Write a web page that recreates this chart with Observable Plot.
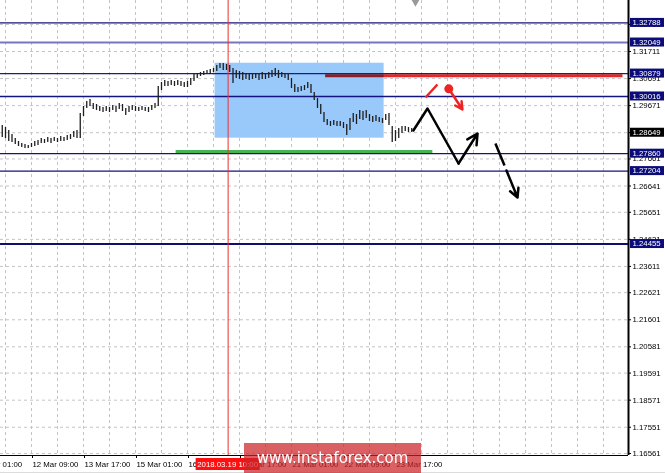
<!DOCTYPE html>
<html><head><meta charset="utf-8">
<script src="https://cdn.jsdelivr.net/npm/d3@7"></script>
<script src="https://cdn.jsdelivr.net/npm/@observablehq/plot@0.6"></script>
<style>
html,body{margin:0;padding:0;background:#fff;}
#chart{width:665px;height:473px;overflow:hidden;}
</style></head><body><div id="chart"></div>
<script>
// ---- data (H1 bar index t: 0 = 12 Mar 09:00) ----
const firstBarT = -18, barStep = 2;
const barHigh = [1.28922,1.28847,1.28734,1.28583,1.28432,1.28319,1.28244,1.28206,1.28169,1.28244,
1.28319,1.28357,1.28432,1.28395,1.28470,1.28432,1.28470,1.28432,1.28508,1.28470,
1.28545,1.28583,1.28696,1.28734,1.29375,1.29638,1.29827,1.29902,1.29751,1.29714,
1.29638,1.29601,1.29638,1.29601,1.29676,1.29638,1.29751,1.29714,1.29563,1.29638,
1.29676,1.29638,1.29601,1.29638,1.29601,1.29601,1.29676,1.29751,1.30392,1.30543,
1.30618,1.30580,1.30618,1.30580,1.30618,1.30580,1.30543,1.30580,1.30694,1.30844,
1.30882,1.30920,1.30957,1.30995,1.31033,1.31070,1.31183,1.31259,1.31259,1.31221,
1.31183,1.31070,1.30995,1.30957,1.30920,1.30882,1.30882,1.30844,1.30882,1.30844,
1.30920,1.30882,1.30920,1.30995,1.31070,1.30995,1.30920,1.30882,1.30844,1.30694,
1.30467,1.30354,1.30392,1.30430,1.30543,1.30467,1.30166,1.29940,1.29714,1.29412,
1.29148,1.29073,1.29111,1.29073,1.29073,1.29035,1.28960,1.29186,1.29375,1.29337,
1.29488,1.29450,1.29488,1.29337,1.29261,1.29299,1.29224,1.29186,1.29337,1.29375,
1.28885,1.28734,1.28809,1.28885,1.28885,1.28847,1.28809];
const barLow = [1.28470,1.28432,1.28319,1.28282,1.28206,1.28131,1.28093,1.28056,1.28056,1.28093,
1.28131,1.28169,1.28244,1.28244,1.28282,1.28244,1.28319,1.28282,1.28319,1.28319,
1.28357,1.28395,1.28470,1.28432,1.28432,1.29261,1.29563,1.29638,1.29525,1.29488,
1.29450,1.29412,1.29450,1.29412,1.29488,1.29412,1.29525,1.29450,1.29299,1.29412,
1.29488,1.29450,1.29450,1.29488,1.29450,1.29412,1.29488,1.29563,1.29638,1.30241,
1.30392,1.30392,1.30430,1.30392,1.30430,1.30392,1.30354,1.30354,1.30430,1.30580,
1.30694,1.30769,1.30807,1.30844,1.30844,1.30920,1.30957,1.31070,1.30995,1.30995,
1.30920,1.30505,1.30694,1.30656,1.30618,1.30656,1.30618,1.30656,1.30694,1.30618,
1.30656,1.30656,1.30694,1.30731,1.30769,1.30694,1.30731,1.30694,1.30618,1.30317,
1.30166,1.30166,1.30204,1.30241,1.30317,1.30128,1.29864,1.29563,1.29337,1.29035,
1.28922,1.28885,1.28922,1.28885,1.28885,1.28809,1.28545,1.28734,1.29035,1.28960,
1.29148,1.29111,1.29186,1.29073,1.29035,1.29073,1.29035,1.28998,1.29111,1.28922,
1.28282,1.28319,1.28432,1.28621,1.28696,1.28658,1.28658];

const timeTickT = [-32, 0, 32, 64, 96, 128, 160, 192, 224];
const timeTickLabels = ["9 Mar 01:00","12 Mar 09:00","13 Mar 17:00","15 Mar 01:00","16 Mar 09:00","19 Mar 17:00","21 Mar 01:00","22 Mar 09:00","23 Mar 17:00"];
const priceTickLabels = ["1.32731","1.31711","1.30691","1.29671","1.28651","1.27661","1.26641","1.25651","1.24631","1.23611","1.22621","1.21601","1.20581","1.19591","1.18571","1.17551","1.16561"];

const levelPrices = [1.32788, 1.32049, 1.30879, 1.30016, 1.27860, 1.27204, 1.24455];
const levelLabels = ["1.32788","1.32049","1.30879","1.30016","1.27860","1.27204","1.24455"];
const levelColors = ["#14147e","#7676bd","#1c1c86","#14147e","#14147e","#14147e","#0e0e6c"];
const levelWidths = [1.3, 2, 1.3, 1.3, 1.3, 1.3, 2];
const currentPrice = 1.28649, currentLabel = "1.28649";

const zoneT = [113, 217], zoneP = [1.31270, 1.28444];
const supportT = [89, 247], supportP = 1.27945;
const resistT = [181, 364], resistP = 1.30800;
const cursorT = 121, cursorLabel = "2018.03.19 10:00";

const zigT = [235, 243.7, 262.8], zigP = [1.28734, 1.29563, 1.27490];
const upArrowT = [262.8, 274.5], upArrowP = [1.27490, 1.28621];
const downDashT = [285.5, 291.1], downDashP = [1.28244, 1.27415];
const downArrowT = [292.3, 299.1], downArrowP = [1.27226, 1.26209];
const redSlashT = [242.5, 249.8], redSlashP = [1.29977, 1.30467];
const redDotT = 256.8, redDotP = 1.30305;
const redArrowT = [256.8, 265.2], redArrowP = [1.30305, 1.29525];
const shiftT = 236.3;
const watermark = "www.instaforex.com";

// ---- build tables ----
const bars = barHigh.map((h, i) => ({t: firstBarT + i * barStep, high: h, low: barLow[i]}));
const priceTicks = priceTickLabels.map(Number);
const levels = levelPrices.map((p, i) => ({p, c: levelColors[i], w: levelWidths[i]}));
const zig = zigT.map((t, i) => ({t, p: zigP[i]}));

const RED = "#ee2424";
const font = "Liberation Sans, Arial, sans-serif";

const plot = Plot.plot({
  width: 665, height: 473,
  marginTop: 0, marginBottom: 18, marginLeft: 0, marginRight: 37,
  x: {domain: [-19.08, 367.4], axis: null},
  y: {domain: [1.16486, 1.33633], axis: null},
  style: {fontFamily: font, fontSize: "7.8px", background: "white", color: "black", overflow: "visible"},
  marks: [
    Plot.gridX({ticks: d3.range(-16, 368, 16), stroke: "#c4c4c4", strokeOpacity: 1, strokeDasharray: "3,3"}),
    Plot.gridY({ticks: priceTicks, stroke: "#c4c4c4", strokeOpacity: 1, strokeDasharray: "3,3"}),
    Plot.rect([0], {x1: zoneT[0], x2: zoneT[1], y1: zoneP[0], y2: zoneP[1], fill: "#99c9fb"}),
    Plot.ruleY(levels, {y: "p", stroke: "c", strokeWidth: "w"}),
    Plot.ruleY([resistP], {x1: resistT[0], x2: resistT[1], stroke: RED, strokeWidth: 3, mixBlendMode: "multiply"}),
    Plot.ruleY([supportP], {x1: supportT[0], x2: supportT[1], stroke: "#45b554", strokeWidth: 3}),
    Plot.ruleX(bars, {x: "t", y1: "low", y2: "high", stroke: "#1e1e1e", strokeWidth: 1.3}),
    Plot.ruleX([cursorT], {stroke: "#f03030", strokeWidth: 1}),
    Plot.line(zig, {x: "t", y: "p", stroke: "black", strokeWidth: 2.5}),
    Plot.arrow([0], {x1: upArrowT[0], y1: upArrowP[0], x2: upArrowT[1], y2: upArrowP[1], stroke: "black", strokeWidth: 2.5, headLength: 10, headAngle: 55}),
    Plot.link([0], {x1: downDashT[0], y1: downDashP[0], x2: downDashT[1], y2: downDashP[1], stroke: "black", strokeWidth: 2.5}),
    Plot.arrow([0], {x1: downArrowT[0], y1: downArrowP[0], x2: downArrowT[1], y2: downArrowP[1], stroke: "black", strokeWidth: 2.5, headLength: 10, headAngle: 55}),
    Plot.link([0], {x1: redSlashT[0], y1: redSlashP[0], x2: redSlashT[1], y2: redSlashP[1], stroke: RED, strokeWidth: 2.5}),
    Plot.arrow([0], {x1: redArrowT[0], y1: redArrowP[0], x2: redArrowT[1], y2: redArrowP[1], stroke: RED, strokeWidth: 2.5, headLength: 10, headAngle: 55}),
    Plot.dot([0], {x: redDotT, y: redDotP, r: 4.5, fill: RED, stroke: "none"}),
    Plot.dot([0], {x: shiftT, frameAnchor: "top", symbol: "triangle", rotate: 180, r: 3, dy: 1.5, fill: "#9a9a9a", stroke: "none"}),
    Plot.ruleY([1.16486], {stroke: "black", strokeWidth: 1}),
    Plot.ruleX([367.4], {stroke: "black", strokeWidth: 2}),
    Plot.axisX({ticks: timeTickT, tickFormat: (d, i) => timeTickLabels[i], textAnchor: "start", tickSize: 3, tickPadding: 3, dx: 1, stroke: "black", fill: "black", label: null}),
    Plot.axisY({anchor: "right", ticks: priceTicks, tickFormat: d => d.toFixed(5), tickSize: 2, tickPadding: 2, fill: "black", label: null})
  ]
});

document.getElementById("chart").appendChild(plot);

// ---- overlay labels positioned with Plot's own scales ----
const svg = d3.select(plot);
const ys = plot.scale("y"), xs = plot.scale("x");
const g = svg.append("g").attr("font-family", font).attr("font-size", 7.8).attr("text-anchor", "start");
levelPrices.forEach((p, i) => {
  const y = ys.apply(p);
  g.append("rect").attr("x", 630).attr("y", y - 4.5).attr("width", 34).attr("height", 9).attr("fill", "#0b0b7a");
  g.append("text").attr("x", 632.5).attr("y", y).attr("dy", "0.36em").attr("fill", "white").text(levelLabels[i]);
});
{
  const y = ys.apply(currentPrice);
  g.append("rect").attr("x", 630).attr("y", y - 4.5).attr("width", 34).attr("height", 9).attr("fill", "black");
  g.append("text").attr("x", 632.5).attr("y", y).attr("dy", "0.36em").attr("fill", "white").text(currentLabel);
}
{
  const x = xs.apply(cursorT);
  g.append("rect").attr("x", x - 32).attr("y", 458).attr("width", 64).attr("height", 12).attr("fill", "#ff1010");
  g.append("text").attr("x", x).attr("y", 464).attr("dy", "0.36em").attr("text-anchor", "middle").attr("fill", "white").text(cursorLabel);
}
svg.append("line").attr("x1", 0).attr("x2", 665).attr("y1", 472.5).attr("y2", 472.5).attr("stroke", "#dcdcdc");
const wm = svg.append("g");
wm.append("rect").attr("x", 244).attr("y", 443).attr("width", 177).attr("height", 30).attr("fill", "#cc2228").attr("opacity", 0.72);
wm.append("text").attr("x", 332.5).attr("y", 463).attr("text-anchor", "middle").attr("font-family", "DejaVu Sans, sans-serif").attr("font-size", 15).attr("fill", "white").text(watermark);
</script>
</body></html>
